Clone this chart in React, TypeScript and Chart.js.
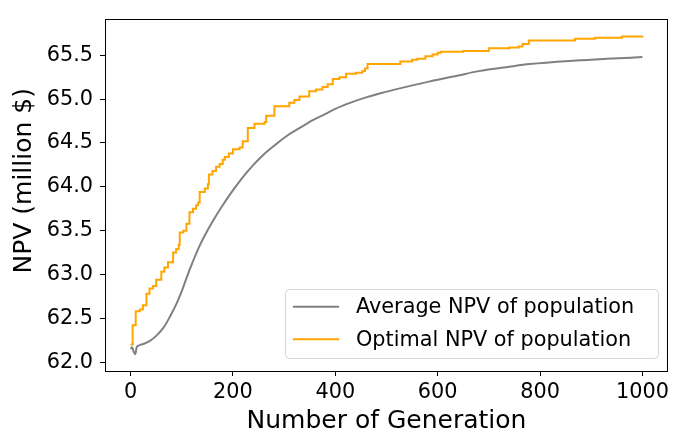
import React, { useEffect, useRef } from "react";
import { Chart, registerables } from "chart.js";

Chart.register(...registerables);

// Average NPV of population (generation, value in million $)
const avgGenerations = [0, 3, 6, 9, 12, 16, 20, 26, 37, 50, 65, 77, 90, 100, 115, 135, 150, 167, 180, 195, 210, 225, 240, 255, 270, 285, 305, 330, 356, 380, 400, 430, 460, 490, 524, 583, 640, 680, 740, 780, 870, 930, 1000];
const avgNPV = [62.15, 62.17, 62.12, 62.09, 62.17, 62.19, 62.2, 62.21, 62.24, 62.3, 62.4, 62.52, 62.67, 62.81, 63.05, 63.33, 63.5, 63.67, 63.79, 63.92, 64.04, 64.15, 64.25, 64.34, 64.42, 64.49, 64.58, 64.67, 64.76, 64.83, 64.89, 64.96, 65.02, 65.07, 65.12, 65.2, 65.27, 65.32, 65.37, 65.4, 65.44, 65.46, 65.48];

// Optimal NPV of population (step changes)
const optGenerations = [0, 4, 10, 18, 24, 31, 37, 44, 50, 60, 66, 73, 83, 89, 94, 96, 103, 109, 115, 122, 128, 132, 135, 145, 151, 153, 160, 167, 174, 180, 184, 192, 200, 213, 219, 229, 242, 262, 265, 281, 310, 320, 330, 349, 362, 375, 385, 395, 408, 421, 440, 453, 458, 463, 527, 550, 560, 576, 590, 600, 606, 650, 700, 740, 758, 766, 778, 868, 907, 960, 1000];
const optNPV = [62.2, 62.42, 62.58, 62.6, 62.65, 62.78, 62.84, 62.87, 62.94, 63.03, 63.08, 63.14, 63.25, 63.29, 63.34, 63.48, 63.5, 63.58, 63.71, 63.75, 63.79, 63.82, 63.94, 63.98, 64.03, 64.14, 64.18, 64.23, 64.26, 64.31, 64.34, 64.38, 64.43, 64.45, 64.52, 64.67, 64.72, 64.74, 64.81, 64.92, 64.96, 64.99, 65.03, 65.09, 65.11, 65.14, 65.17, 65.23, 65.25, 65.29, 65.3, 65.32, 65.35, 65.4, 65.43, 65.45, 65.46, 65.49, 65.51, 65.53, 65.54, 65.55, 65.58, 65.59, 65.6, 65.63, 65.67, 65.69, 65.7, 65.715, 65.72];

const xTicks = [0, 200, 400, 600, 800, 1000];
const yTicks = [62.0, 62.5, 63.0, 63.5, 64.0, 64.5, 65.0, 65.5];

const seriesLabels = ["Average NPV of population", "Optimal NPV of population"];
const xTitle = "Number of Generation";
const yTitle = "NPV (million $)";

const FONT = "'DejaVu Sans', sans-serif";

const framePlugin = {
  id: "frameLegendTitle",
  afterDraw(chart: any) {
    const ctx = chart.ctx;
    const a = chart.chartArea;
    ctx.save();
    // frame
    ctx.strokeStyle = "#000";
    ctx.lineWidth = 1;
    ctx.strokeRect(Math.round(a.left) + 0.5, Math.round(a.top) + 0.5, Math.round(a.right - a.left) - 1, Math.round(a.bottom - a.top));

    // y title
    ctx.fillStyle = "#000";
    ctx.font = `25px ${FONT}`;
    ctx.textAlign = "center";
    ctx.textBaseline = "middle";
    ctx.translate(24.4, 180.8);
    ctx.rotate(-Math.PI / 2);
    ctx.fillText(yTitle, 0, 0);
    ctx.restore();

    // legend
    ctx.save();
    const bx = 285.5, by = 289.5, bw = 373, bh = 69, r = 4;
    ctx.beginPath();
    ctx.moveTo(bx + r, by);
    ctx.lineTo(bx + bw - r, by);
    ctx.arcTo(bx + bw, by, bx + bw, by + r, r);
    ctx.lineTo(bx + bw, by + bh - r);
    ctx.arcTo(bx + bw, by + bh, bx + bw - r, by + bh, r);
    ctx.lineTo(bx + r, by + bh);
    ctx.arcTo(bx, by + bh, bx, by + bh - r, r);
    ctx.lineTo(bx, by + r);
    ctx.arcTo(bx, by, bx + r, by, r);
    ctx.closePath();
    ctx.fillStyle = "rgba(255,255,255,0.8)";
    ctx.fill();
    ctx.strokeStyle = "#d6d6d6";
    ctx.lineWidth = 1;
    ctx.stroke();

    const rows = [306.7, 339.3];
    chart.data.datasets.forEach((ds: any, i: number) => {
      const y = rows[i];
      ctx.strokeStyle = ds.borderColor;
      ctx.lineWidth = 2;
      ctx.beginPath();
      ctx.moveTo(293, y);
      ctx.lineTo(339, y);
      ctx.stroke();
      ctx.fillStyle = "#000";
      ctx.font = `20.8px ${FONT}`;
      ctx.textAlign = "left";
      ctx.textBaseline = "middle";
      ctx.fillText(ds.label, 356, y + 1);
    });
    ctx.restore();
  },
};

export default function App() {
  const ref = useRef<HTMLCanvasElement | null>(null);
  useEffect(() => {
    if (!ref.current) return;
    const avgData = avgGenerations.map((g, i) => ({ x: g, y: avgNPV[i] }));
    const optData = optGenerations.map((g, i) => ({ x: g, y: optNPV[i] }));
    const chart = new Chart(ref.current, {
      type: "line",
      data: {
        datasets: [
          {
            label: seriesLabels[0],
            data: avgData,
            borderColor: "#808080",
            backgroundColor: "#808080",
            borderWidth: 2,
            pointRadius: 0,
            cubicInterpolationMode: "monotone",
            order: 2,
          },
          {
            label: seriesLabels[1],
            data: optData,
            borderColor: "#FFA500",
            backgroundColor: "#FFA500",
            borderWidth: 2,
            pointRadius: 0,
            stepped: true,
            order: 1,
          },
        ],
      },
      options: {
        responsive: false,
        animation: false,
        devicePixelRatio: 1,
        layout: { padding: { left: 0, right: 3, top: 3, bottom: 0 } },
        plugins: {
          legend: { display: false },
          tooltip: { enabled: false },
        },
        scales: {
          x: {
            type: "linear",
            min: -50,
            max: 1050,
            afterBuildTicks: (s: any) => {
              s.ticks = xTicks.map((v) => ({ value: v }));
            },
            afterFit: (s: any) => {
              s.height = 68;
            },
            ticks: {
              autoSkip: false,
              maxRotation: 0,
              padding: 4,
              color: "#000",
              font: { family: FONT, size: 20.8 },
              callback: (v: any) => String(v),
            },
            grid: { display: true, drawOnChartArea: false, drawTicks: true, tickLength: 5, color: "#000", lineWidth: 1 },
            border: { display: true, color: "#000", width: 1 },
            title: {
              display: true,
              text: xTitle,
              color: "#000",
              font: { family: FONT, size: 25 },
              padding: { top: 0, bottom: 3 },
            },
          },
          y: {
            type: "linear",
            min: 61.899,
            max: 65.909,
            afterBuildTicks: (s: any) => {
              s.ticks = yTicks.map((v) => ({ value: v }));
            },
            afterFit: (s: any) => {
              s.width = 105;
            },
            ticks: {
              autoSkip: false,
              padding: 7,
              color: "#000",
              font: { family: FONT, size: 20.8 },
              callback: (v: any) => Number(v).toFixed(1),
            },
            grid: { display: true, drawOnChartArea: false, drawTicks: true, tickLength: 5, color: "#000", lineWidth: 1 },
            border: { display: true, color: "#000", width: 1 },
            title: { display: false },
          },
        },
      },
      plugins: [framePlugin],
    } as any);
    return () => chart.destroy();
  }, []);
  return (
    <div style={{ position: "fixed", left: 0, top: 0, width: 673, height: 439, background: "#fff" }}>
      <canvas ref={ref} width={673} height={439} style={{ display: "block", width: 673, height: 439 }} />
    </div>
  );
}
